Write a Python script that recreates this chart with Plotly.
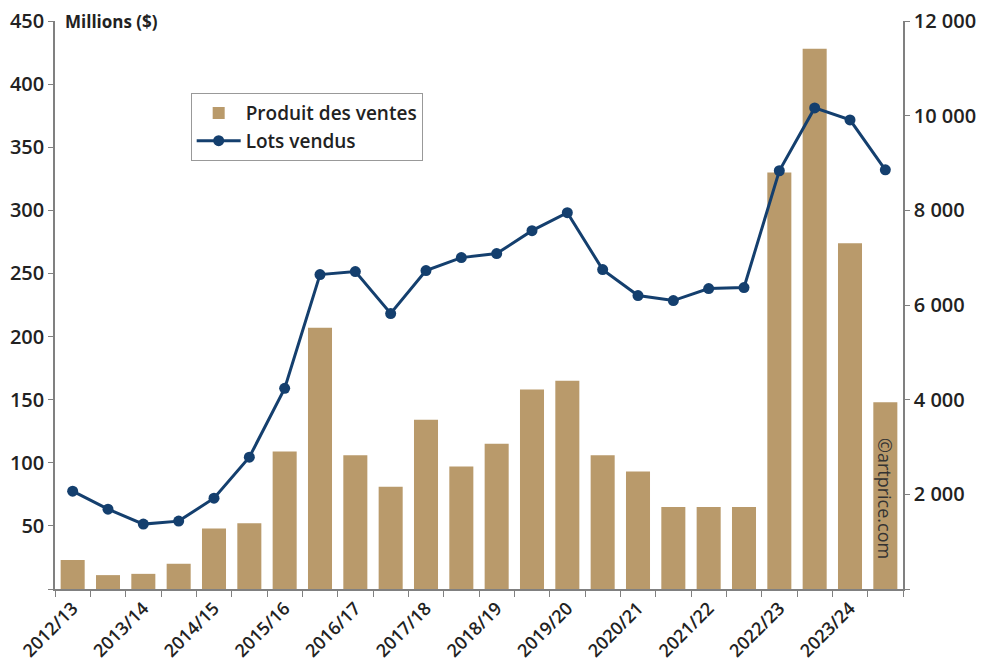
import plotly.graph_objects as go

periods = list(range(24))
tick_labels = ["2012/13", "2013/14", "2014/15", "2015/16", "2016/17", "2017/18",
               "2018/19", "2019/20", "2020/21", "2021/22", "2022/23", "2023/24"]
produit = [23, 11, 12, 20, 48, 52, 109, 207, 106, 81, 134, 97,
           115, 158, 165, 106, 93, 65, 65, 65, 330, 428, 274, 148]
lots = [2067, 1687, 1371, 1434, 1919, 2784, 4239, 6643, 6706, 5820, 6727, 7001,
        7086, 7571, 7950, 6748, 6200, 6094, 6348, 6369, 8836, 10164, 9911, 8857]

bar_color = "#b99a6b"
line_color = "#143f6e"
font_family = "Open Sans"
txt = "#222222"
axis_col = "#808080"
W = 600

fig = go.Figure()
fig.add_trace(go.Bar(x=periods, y=produit, name="Produit des ventes",
                     marker=dict(color=bar_color, line=dict(width=0)), width=0.68))
fig.add_trace(go.Scatter(x=periods, y=lots, name="Lots vendus", yaxis="y2",
                         mode="lines+markers",
                         line=dict(color=line_color, width=3),
                         marker=dict(color=line_color, size=11)))

fig.update_layout(
    width=986, height=663,
    margin=dict(l=47, r=91, t=13, b=82),
    plot_bgcolor="white", paper_bgcolor="white",
    font=dict(family=font_family, size=18, color=txt, weight=W),
    showlegend=True,
    legend=dict(x=0.16, y=0.873, xanchor="left", yanchor="top",
                bordercolor="#999999", borderwidth=1, bgcolor="white",
                font=dict(size=19, color=txt, weight=W), tracegroupgap=0,
                itemwidth=44),
    xaxis=dict(range=[-0.5, 23.5], tickmode="array", automargin=False,
               tickvals=periods[::2], ticktext=tick_labels,
               ticklabeloverflow="allow",
               tickangle=-45, ticks="", showline=True, linecolor=axis_col,
               linewidth=1.5, showgrid=False, zeroline=False,
               minor=dict(tick0=0.5, dtick=1, ticks="outside", ticklen=6,
                          tickcolor=axis_col, showgrid=False),
               tickfont=dict(size=18, color=txt, weight=W)),
    yaxis=dict(range=[0, 450], tickmode="array", automargin=False,
               ticklabeloverflow="allow",
               tickvals=[0, 50, 100, 150, 200, 250, 300, 350, 400, 450],
               ticktext=["", "50", "100", "150", "200", "250", "300", "350", "400", "450"],
               ticks="outside", ticklen=5, tickcolor=axis_col,
               showline=True, linecolor=axis_col, linewidth=1.5,
               showgrid=False, zeroline=False, tickfont=dict(size=20, color=txt, weight=W)),
    yaxis2=dict(range=[0, 12000], overlaying="y", side="right", tickmode="array",
                automargin=False, ticklabeloverflow="allow",
                tickvals=[0, 2000, 4000, 6000, 8000, 10000, 12000],
                ticktext=["", "2 000", "4 000", "6 000", "8 000", "10 000", "12 000"],
                ticks="outside", ticklen=5, tickcolor=axis_col,
                showline=True, linecolor=axis_col, linewidth=1.5,
                showgrid=False, zeroline=False, tickfont=dict(size=20, color=txt, weight=W)),
    annotations=[
        dict(text="Millions ($)", xref="paper", yref="paper", x=0.01, y=1.0,
             xanchor="left", yanchor="middle", showarrow=False,
             font=dict(size=17, color=txt, weight=700)),
        dict(text="©artprice.com", xref="paper", yref="paper", x=0.979, y=0.16,
             xanchor="center", yanchor="middle", showarrow=False, textangle=90,
             font=dict(size=18, color="#333333", weight=400)),
    ],
)

fig.write_html("out.html")
